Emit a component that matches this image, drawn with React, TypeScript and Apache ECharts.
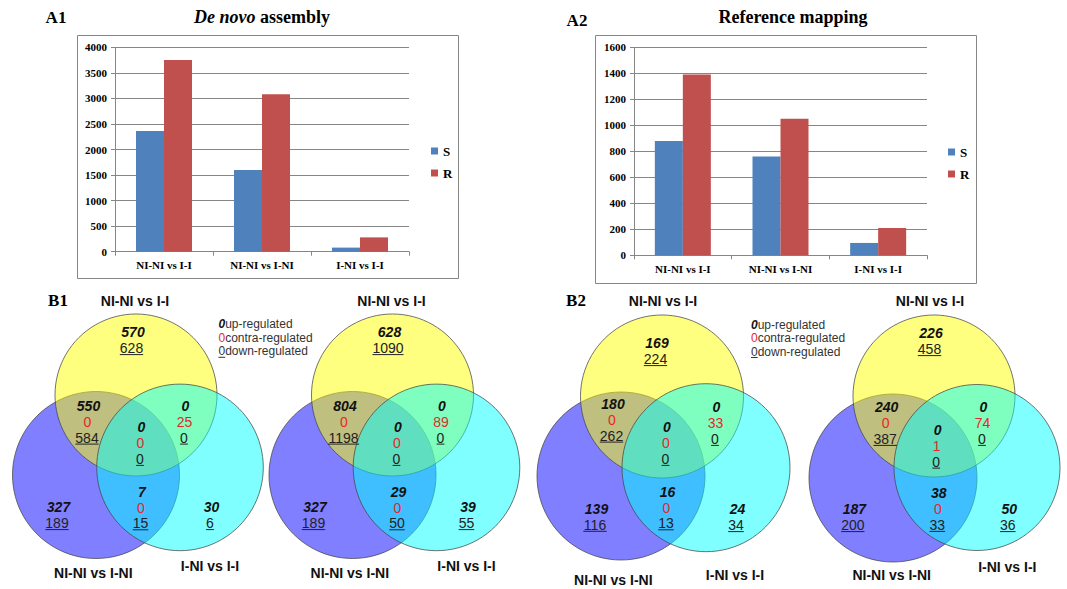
import React, { useEffect, useRef } from 'react';
import * as echarts from 'echarts';

// ---------- Bar chart data ----------
const categories = ['NI-NI vs I-I', 'NI-NI vs I-NI', 'I-NI vs I-I'];
const seriesNames = ['S', 'R'];
const deNovoS = [2360, 1600, 80];
const deNovoR = [3750, 3080, 280];
const refMapS = [880, 760, 95];
const refMapR = [1390, 1050, 210];
const deNovoMax = 4000;
const deNovoStep = 500;
const refMapMax = 1600;
const refMapStep = 200;

// ---------- Venn data ----------
// region order: [A only, A∩B, A∩C, A∩B∩C, B∩C, B only, C only]
// A = NI-NI vs I-I (yellow), B = NI-NI vs I-NI (blue), C = I-NI vs I-I (cyan)
const setNames = ['NI-NI vs I-I', 'NI-NI vs I-NI', 'I-NI vs I-I'];
const regulationLabels = ['up-regulated', 'contra-regulated', 'down-regulated'];

const b1aUp = [570, 550, 0, 0, 7, 327, 30];
const b1aContra = [null, 0, 25, 0, 0, null, null];
const b1aDown = [628, 584, 0, 0, 15, 189, 6];

const b1bUp = [628, 804, 0, 0, 29, 327, 39];
const b1bContra = [null, 0, 89, 0, 0, null, null];
const b1bDown = [1090, 1198, 0, 0, 50, 189, 55];

const b2aUp = [169, 180, 0, 0, 16, 139, 24];
const b2aContra = [null, 0, 33, 0, 0, null, null];
const b2aDown = [224, 262, 0, 0, 13, 116, 34];

const b2bUp = [226, 240, 0, 0, 38, 187, 50];
const b2bContra = [null, 0, 74, 1, 0, null, null];
const b2bDown = [458, 387, 0, 0, 33, 200, 36];

// ---------- Styles / layout ----------
const SERIF = '"Liberation Serif", "Times New Roman", serif';
const SANS = '"Liberation Sans", Arial, sans-serif';
const AXIS = '#868686';
const RED = '#e8262a';

type Venn = {
  up: number[];
  contra: (number | null)[];
  down: number[];
  circles: number[][]; // yellow, blue, cyan : cx, cy, r
  regions: number[][];
  labels: number[][];
  legend?: number[];
};

const venns: Venn[] = [
  {
    up: b1aUp, contra: b1aContra, down: b1aDown,
    circles: [[136, 395, 81], [96, 475, 83.5], [180, 467.4, 83.3]],
    regions: [[132, 332.3], [87.5, 406], [184.5, 406], [140.5, 427.3], [141, 491.7], [57.5, 507.3], [210.5, 507.3]],
    labels: [[135, 300.7], [93.3, 573.3], [210, 566]],
    legend: [218.5, 324.3],
  },
  {
    up: b1bUp, contra: b1bContra, down: b1bDown,
    circles: [[392.5, 395, 81], [352.5, 475, 83.5], [436.5, 467.4, 83.3]],
    regions: [[388.5, 332.3], [344, 406], [441, 406], [397, 427.3], [397.5, 491.7], [314, 507.3], [467, 507.3]],
    labels: [[391.5, 300.7], [349.8, 573.3], [466.5, 566]],
  },
  {
    up: b2aUp, contra: b2aContra, down: b2aDown,
    circles: [[662, 396.5, 81.5], [621, 476, 84], [706, 467.7, 84]],
    regions: [[656, 343.3], [612, 404], [715.5, 407.3], [666, 427.3], [666.5, 491.7], [595.5, 509], [736.5, 509.3]],
    labels: [[663, 300.7], [613.3, 579.5], [735, 575]],
    legend: [751, 324.5],
  },
  {
    up: b2bUp, contra: b2bContra, down: b2bDown,
    circles: [[934, 396, 81], [893, 478, 84], [977, 467.5, 83]],
    regions: [[930, 333.3], [885.7, 407.3], [982.5, 407.3], [936.7, 430], [937.8, 493.3], [853.3, 509.3], [1008.3, 509.3]],
    labels: [[930, 301], [891.7, 575], [1007.3, 566.7]],
  },
];

function txt(x: number, y: number, text: string, font: string, fill: string, align = 'center', rich?: any) {
  const style: any = {
    text, font, fill,
    textAlign: align, align,
    textVerticalAlign: 'middle', verticalAlign: 'middle',
  };
  if (rich) style.rich = rich;
  return { type: 'text', x, y, silent: true, style };
}

function uline(x1: number, x2: number, y: number, stroke: string) {
  return { type: 'line', silent: true, shape: { x1, y1: y, x2, y2: y }, style: { stroke, lineWidth: 1 } };
}

function buildGraphic() {
  const g: any[] = [];
  // chart frames
  g.push({ type: 'rect', silent: true, shape: { x: 77.5, y: 35.5, width: 381, height: 243 }, style: { fill: 'none', stroke: AXIS, lineWidth: 1 } });
  g.push({ type: 'rect', silent: true, shape: { x: 595.5, y: 35.5, width: 381, height: 248 }, style: { fill: 'none', stroke: AXIS, lineWidth: 1 } });
  // panel labels
  const panelFont = `bold 17px ${SERIF}`;
  g.push(txt(56, 17, 'A1', panelFont, '#000'));
  g.push(txt(577, 20, 'A2', panelFont, '#000'));
  g.push(txt(58, 300, 'B1', panelFont, '#000'));
  g.push(txt(576, 300, 'B2', panelFont, '#000'));
  // titles
  g.push(txt(262, 17, '{i|De novo}{b| assembly}', `bold 18px ${SERIF}`, '#000', 'center', {
    i: { fontFamily: SERIF, fontSize: 18, fontWeight: 'bold', fontStyle: 'italic', fill: '#000' },
    b: { fontFamily: SERIF, fontSize: 18, fontWeight: 'bold', fill: '#000' },
  }));
  g.push(txt(793, 17, 'Reference mapping', `bold 18px ${SERIF}`, '#000'));

  const upFont = `italic bold 14px ${SANS}`;
  const numFont = `14px ${SANS}`;
  const nameFont = `bold 14px ${SANS}`;
  const digitW = 14 * 0.556;
  const rowH = 15.8;

  venns.forEach((v) => {
    const [yc, bc, cc] = v.circles;
    const stroke = 'rgba(70,70,70,0.75)';
    g.push({ type: 'circle', silent: true, shape: { cx: bc[0], cy: bc[1], r: bc[2] }, style: { fill: 'rgba(0,0,255,0.5)', stroke, lineWidth: 1 } });
    g.push({ type: 'circle', silent: true, shape: { cx: yc[0], cy: yc[1], r: yc[2] }, style: { fill: 'rgba(255,255,0,0.5)', stroke, lineWidth: 1 } });
    g.push({ type: 'circle', silent: true, shape: { cx: cc[0], cy: cc[1], r: cc[2] }, style: { fill: 'rgba(0,255,255,0.5)', stroke, lineWidth: 1 } });

    v.regions.forEach((p, i) => {
      const [x, y] = p;
      g.push(txt(x + 1, y, String(v.up[i]), upFont, '#111'));
      let dy = rowH;
      const c = v.contra[i];
      if (c !== null && c !== undefined) {
        g.push(txt(x, y + rowH, String(c), numFont, RED));
        dy = rowH * 2;
      }
      const d = String(v.down[i]);
      g.push(txt(x - 0.5, y + dy, d, numFont, '#222'));
      const w = d.length * digitW;
      g.push(uline(x - 0.5 - w / 2, x - 0.5 + w / 2, y + dy + 6.5, '#222'));
    });

    v.labels.forEach((p, i) => {
      g.push(txt(p[0], p[1], setNames[i], nameFont, '#111'));
    });

    if (v.legend) {
      const [lx, ly] = v.legend;
      const lh = 13.5;
      const zeroW = 12 * 0.556;
      g.push(txt(lx, ly, '0', `italic bold 12px ${SANS}`, '#111', 'left'));
      g.push(txt(lx + zeroW, ly, regulationLabels[0], `12px ${SANS}`, '#333', 'left'));
      g.push(txt(lx, ly + lh, '0', `12px ${SANS}`, RED, 'left'));
      g.push(txt(lx + zeroW, ly + lh, regulationLabels[1], `12px ${SANS}`, '#333', 'left'));
      g.push(txt(lx, ly + 2 * lh, '0', `12px ${SANS}`, '#333', 'left'));
      g.push(uline(lx, lx + zeroW, ly + 2 * lh + 6, '#333'));
      g.push(txt(lx + zeroW, ly + 2 * lh, regulationLabels[2], `12px ${SANS}`, '#333', 'left'));
    }
  });
  return g;
}

function buildOption(): any {
  const labelStyle = { color: '#000', fontFamily: SERIF, fontWeight: 'bold', fontSize: 11 };
  const xAxis = [0, 1].map((i) => ({
    type: 'category', gridIndex: i, data: categories,
    axisLine: { show: true, lineStyle: { color: AXIS } },
    axisTick: { show: true, length: 4, lineStyle: { color: AXIS } },
    axisLabel: { ...labelStyle, margin: 8 },
  }));
  const yBase = {
    type: 'value', min: 0,
    axisLine: { show: true, lineStyle: { color: AXIS } },
    axisTick: { show: true, length: 4, lineStyle: { color: AXIS } },
    splitLine: { show: true, lineStyle: { color: AXIS, width: 1 } },
    axisLabel: { ...labelStyle, margin: 8, formatter: (v: number) => String(v) },
  };
  const yAxis = [
    { ...yBase, gridIndex: 0, max: deNovoMax, interval: deNovoStep },
    { ...yBase, gridIndex: 1, max: refMapMax, interval: refMapStep },
  ];
  const colors: Record<string, string> = { S: '#4f81bd', R: '#c0504d' };
  const bar = (name: string, idx: number, data: number[]) => ({
    name, type: 'bar', xAxisIndex: idx, yAxisIndex: idx, data,
    barWidth: 28, barGap: '0%', itemStyle: { color: colors[name] },
  });
  const legendBase = {
    data: seriesNames, orient: 'vertical', itemWidth: 7, itemHeight: 7, itemGap: 9,
    icon: 'rect', selectedMode: false,
    textStyle: { fontFamily: SERIF, fontWeight: 'bold', fontSize: 13, color: '#000' },
  };
  return {
    animation: false,
    backgroundColor: '#ffffff',
    grid: [
      { left: 115, top: 47.3, width: 294, height: 204.4 },
      { left: 634, top: 47.3, width: 293, height: 208 },
    ],
    xAxis,
    yAxis,
    legend: [
      { ...legendBase, left: 426, top: 139.5 },
      { ...legendBase, left: 943, top: 140.5 },
    ],
    series: [
      bar('S', 0, deNovoS),
      bar('R', 0, deNovoR),
      bar('S', 1, refMapS),
      bar('R', 1, refMapR),
    ],
    graphic: { elements: buildGraphic() },
  };
}

export default function App() {
  const ref = useRef<HTMLDivElement>(null);
  useEffect(() => {
    if (!ref.current) return;
    const chart = echarts.init(ref.current, undefined, { renderer: 'svg' });
    chart.setOption(buildOption());
    return () => chart.dispose();
  }, []);
  return (
    <div
      ref={ref}
      style={{ position: 'fixed', left: 0, top: 0, width: 1067, height: 589, background: '#fff' }}
    />
  );
}
